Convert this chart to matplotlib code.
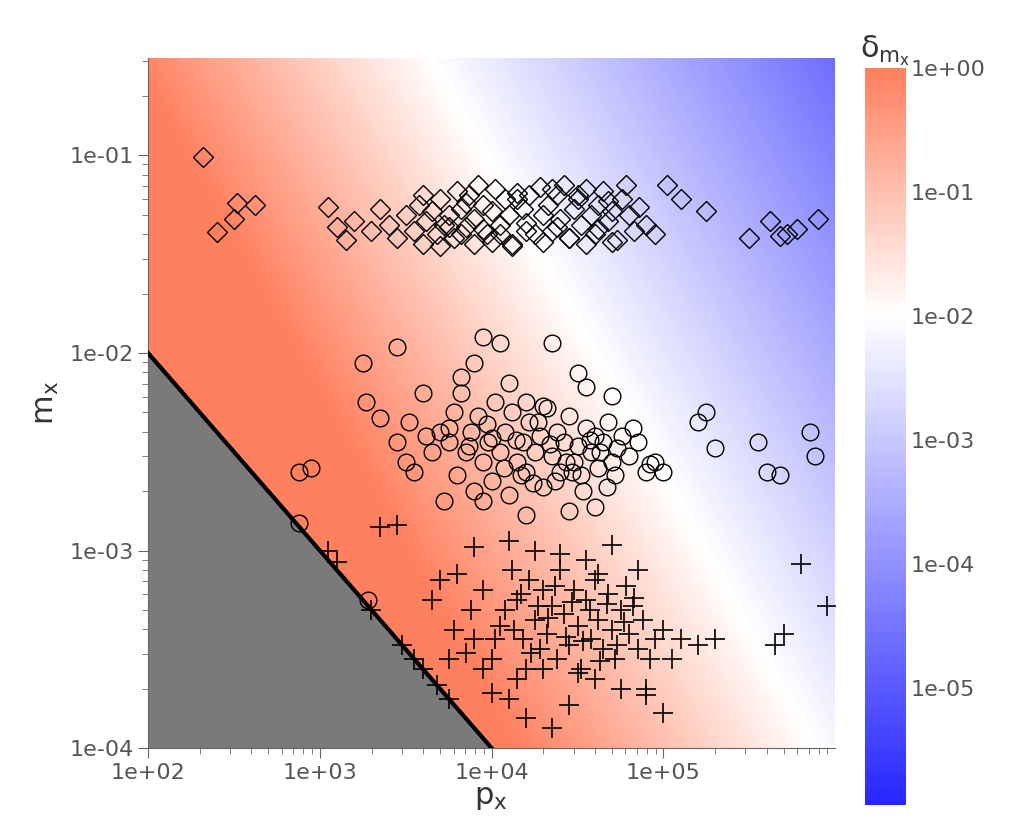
import numpy as np
import matplotlib
matplotlib.use("Agg")
import matplotlib.pyplot as plt
from matplotlib.colors import LinearSegmentedColormap, LogNorm
from matplotlib.ticker import FuncFormatter, LogLocator, NullFormatter

# points as (log10 p_x, log10 m_x)
diamond_lp = [2.32, 2.4, 2.5, 2.52, 2.62, 3.05, 3.1, 3.15, 3.2, 3.3, 3.35, 3.4, 3.45, 3.5, 3.55, 3.58, 3.6, 3.62,
              3.65, 3.68, 3.7, 3.72, 3.75, 3.78, 3.8, 3.82, 3.85, 3.87, 3.9, 3.92, 3.95, 3.97, 4.0, 4.02, 4.05, 4.08,
              4.1, 4.12, 4.15, 4.18, 4.2, 4.22, 4.25, 4.28, 4.3, 4.33, 4.35, 4.38, 4.4, 4.42, 4.45, 4.48, 4.5, 4.52,
              4.55, 4.58, 4.6, 4.62, 4.65, 4.68, 4.7, 4.73, 4.76, 4.8, 4.83, 4.86, 4.9, 4.95, 5.02, 5.1, 5.25,
              5.5, 5.62, 5.68, 5.72, 5.78, 5.9, 3.7, 3.75, 3.82, 3.9, 3.95, 4.0, 4.05, 4.12, 4.2, 4.3, 4.38, 4.45,
              4.55, 4.62, 4.7, 3.6, 3.85, 4.15, 4.35, 4.5, 4.68, 4.78]
diamond_lm = [-1.01, -1.39, -1.32, -1.24, -1.25, -1.26, -1.36, -1.43, -1.33, -1.38, -1.27, -1.35, -1.42, -1.3,
              -1.38, -1.25, -1.45, -1.33, -1.28, -1.4, -1.22, -1.35, -1.3, -1.42, -1.18, -1.27, -1.36, -1.2, -1.32,
              -1.15, -1.25, -1.4, -1.28, -1.17, -1.35, -1.22, -1.3, -1.45, -1.19, -1.27, -1.34, -1.2, -1.4, -1.16,
              -1.3, -1.25, -1.38, -1.2, -1.32, -1.15, -1.42, -1.27, -1.22, -1.35, -1.17, -1.3, -1.4, -1.25, -1.18,
              -1.33, -1.28, -1.43, -1.22, -1.3, -1.38, -1.26, -1.35, -1.4, -1.15, -1.22, -1.28, -1.42, -1.33, -1.41,
              -1.4, -1.37, -1.32, -1.46, -1.36, -1.4, -1.45, -1.37, -1.44, -1.4, -1.46, -1.38, -1.44, -1.36, -1.42,
              -1.45, -1.37, -1.44, -1.2, -1.24, -1.22, -1.17, -1.2, -1.23, -1.15]

circle_lp = [2.88, 2.95, 3.27, 3.45, 3.5, 3.52, 3.55, 3.6, 3.65, 3.7, 3.72, 3.75, 3.78, 3.8, 3.82, 3.85, 3.88,
             3.9, 3.92, 3.95, 3.98, 4.0, 4.02, 4.05, 4.08, 4.1, 4.12, 4.15, 4.18, 4.2, 4.22, 4.25, 4.28, 4.3, 4.32,
             4.35, 4.38, 4.4, 4.42, 4.45, 4.48, 4.5, 4.52, 4.55, 4.58, 4.6, 4.62, 4.65, 4.68, 4.7, 4.73, 4.76, 4.8,
             4.85, 4.9, 4.95, 5.0, 5.2, 5.25, 5.3, 5.55, 5.6, 5.68, 5.85, 5.88, 3.82, 3.9, 4.05, 4.2, 4.35, 4.5,
             3.95, 4.1, 4.3, 4.55, 4.7, 3.35, 3.45, 3.25, 2.88, 3.28, 3.95, 4.2, 4.45, 4.6,
             3.62, 3.75, 3.87, 3.97, 4.07, 4.14, 4.24, 4.34, 4.43, 4.53, 4.63, 4.72, 4.82, 4.92, 4.0, 4.17, 4.27,
             4.37, 4.47, 4.57, 4.67]
circle_lm = [-2.86, -2.58, -2.25, -2.45, -2.55, -2.35, -2.6, -2.2, -2.5, -2.4, -2.75, -2.45, -2.3, -2.62, -2.2,
             -2.5, -2.4, -2.7, -2.32, -2.55, -2.45, -2.65, -2.25, -2.5, -2.4, -2.72, -2.3, -2.55, -2.45, -2.6, -2.35,
             -2.5, -2.42, -2.68, -2.28, -2.52, -2.4, -2.6, -2.45, -2.32, -2.55, -2.47, -2.62, -2.38, -2.5, -2.42,
             -2.58, -2.45, -2.35, -2.55, -2.48, -2.42, -2.52, -2.45, -2.6, -2.55, -2.6, -2.35, -2.3, -2.48, -2.45,
             -2.6, -2.62, -2.4, -2.52, -2.12, -2.05, -1.95, -2.25, -1.95, -2.1, -1.92, -2.15, -2.27, -2.17, -2.22,
             -2.33, -1.97, -2.05, -2.6, -3.25, -2.75, -2.82, -2.8, -2.78,
             -2.42, -2.38, -2.47, -2.36, -2.58, -2.44, -2.66, -2.46, -2.55, -2.7, -2.5, -2.62, -2.38, -2.56, -2.43,
             -2.62, -2.35, -2.65, -2.6, -2.44, -2.68]

plus_lp = [3.05, 3.1, 3.48, 3.55, 3.6, 3.65, 3.68, 3.7, 3.75, 3.78, 3.8, 3.85, 3.88, 3.9, 3.95, 4.0, 4.05, 4.1,
           4.12, 4.15, 4.18, 4.2, 4.22, 4.25, 4.28, 4.3, 4.32, 4.35, 4.38, 4.4, 4.42, 4.45, 4.48, 4.5, 4.52, 4.55,
           4.58, 4.6, 4.62, 4.65, 4.68, 4.7, 4.72, 4.75, 4.78, 4.8, 4.82, 4.85, 4.88, 4.9, 4.95, 5.0, 5.05, 5.1,
           5.2, 5.3, 5.65, 5.7, 5.8, 5.95, 3.35, 3.3, 3.45, 3.9, 4.1, 4.25, 4.4, 4.55, 4.7, 4.85, 3.75, 4.0, 4.15,
           4.3, 4.45, 4.6, 4.75, 4.9, 5.0, 4.2, 4.35, 4.5,
           4.08, 4.17, 4.27, 4.37, 4.47, 4.57, 4.67, 4.77, 4.13, 4.23, 4.33, 4.43, 4.53, 4.63, 4.73, 4.83, 3.95,
           4.02, 4.62, 4.92]
plus_lm = [-3.0, -3.06, -3.48, -3.55, -3.6, -3.25, -3.68, -3.15, -3.55, -3.4, -3.12, -3.52, -3.3, -3.45, -3.2,
           -3.55, -3.38, -3.75, -3.1, -3.25, -3.45, -3.6, -3.15, -3.35, -3.5, -3.2, -3.42, -3.28, -3.55, -3.1,
           -3.32, -3.48, -3.2, -3.38, -3.6, -3.25, -3.45, -3.15, -3.35, -3.5, -3.22, -3.4, -3.55, -3.3, -3.18,
           -3.42, -3.28, -3.5, -3.35, -3.7, -3.45, -3.4, -3.55, -3.45, -3.48, -3.45, -3.48, -3.42, -3.07, -3.28,
           -2.88, -3.3, -2.87, -2.98, -2.95, -3.0, -3.02, -3.05, -2.97, -3.1, -3.75, -3.72, -3.65, -3.6, -3.78,
           -3.65, -3.7, -3.73, -3.82, -3.85, -3.9, -3.62,
           -3.3, -3.22, -3.28, -3.18, -3.26, -3.3, -3.27, -3.36, -3.4, -3.52, -3.34, -3.44, -3.46, -3.56, -3.48,
           -3.24, -3.6, -3.45, -3.12, -3.55]

cmap = LinearSegmentedColormap.from_list("bwo", [(0, (0.15, 0.15, 1.0)), (0.667, (1, 1, 1)),
                                                 (1.0, (1.0, 0.5, 0.37))])
norm = LogNorm(vmin=1.15e-6, vmax=1.0)

fig = plt.figure(figsize=(10.14, 8.34), dpi=100)
ax = fig.add_axes([0.146, 0.103, 0.677, 0.827])
xmin, xmax, ymin, ymax = 1e2, 9.9e5, 1e-4, 0.31
gx = np.logspace(2, np.log10(xmax), 300)
gy = np.logspace(-4, np.log10(ymax), 300)
X, Y = np.meshgrid(gx, gy)
u = np.log10(X) + 0.64 * np.log10(Y)
delta = np.clip(10 ** (-2 - (u - 3.34) * 1.13), 1.15e-6, 1.0)
im = ax.pcolormesh(X, Y, delta, cmap=cmap, norm=norm, shading="auto", rasterized=True)
ax.set_xscale("log")
ax.set_yscale("log")
lx = np.logspace(2, 4, 50)
ax.fill_between(lx, ymin, 1 / lx, color="#7a7a7a", zorder=2)
ax.plot(lx, 1 / lx, color="black", lw=3, zorder=3)

ax.plot(10 ** np.array(diamond_lp), 10 ** np.array(diamond_lm), "D", mfc="none", mec="black", ms=10, mew=1, zorder=4)
ax.plot(10 ** np.array(circle_lp), 10 ** np.array(circle_lm), "o", mfc="none", mec="black", ms=12, mew=1, zorder=4)
ax.plot(10 ** np.array(plus_lp), 10 ** np.array(plus_lm), "+", color="black", ms=15, mew=1.2, zorder=4)

ax.set_xlim(xmin, xmax)
ax.set_ylim(ymin, ymax)
fmt = FuncFormatter(lambda v, p: "%.0e" % v)
ax.xaxis.set_major_formatter(fmt)
ax.yaxis.set_major_formatter(fmt)
ax.xaxis.set_major_locator(LogLocator(base=10, numticks=10))
ax.yaxis.set_major_locator(LogLocator(base=10, numticks=10))
ax.xaxis.set_minor_formatter(NullFormatter())
ax.yaxis.set_minor_formatter(NullFormatter())
for s in ["top", "right"]:
    ax.spines[s].set_visible(False)
for s in ["left", "bottom"]:
    ax.spines[s].set_color("#666666")
ax.tick_params(which="both", colors="#666666", labelsize=16, labelcolor="#555555")
ax.tick_params(which="major", length=7)
ax.tick_params(which="minor", length=4)
ax.set_xlabel(r"p$_\mathregular{x}$", fontsize=22, color="#333333", labelpad=0)
ax.set_ylabel(r"m$_\mathregular{x}$", fontsize=22, color="#333333", labelpad=6)

cax = fig.add_axes([0.853, 0.035, 0.04, 0.883])
cb = fig.colorbar(im, cax=cax)
cb.outline.set_visible(False)
cb.set_ticks([1, 1e-1, 1e-2, 1e-3, 1e-4, 1e-5])
cb.set_ticklabels(["1e+00", "1e-01", "1e-02", "1e-03", "1e-04", "1e-05"])
cax.yaxis.set_minor_formatter(NullFormatter())
cax.tick_params(which="both", length=0, labelsize=16, labelcolor="#555555")
cax.set_title("δ$_\\mathregular{m_x}$", fontsize=22, color="#333333", pad=6)

fig.savefig("out.png", dpi=100)
